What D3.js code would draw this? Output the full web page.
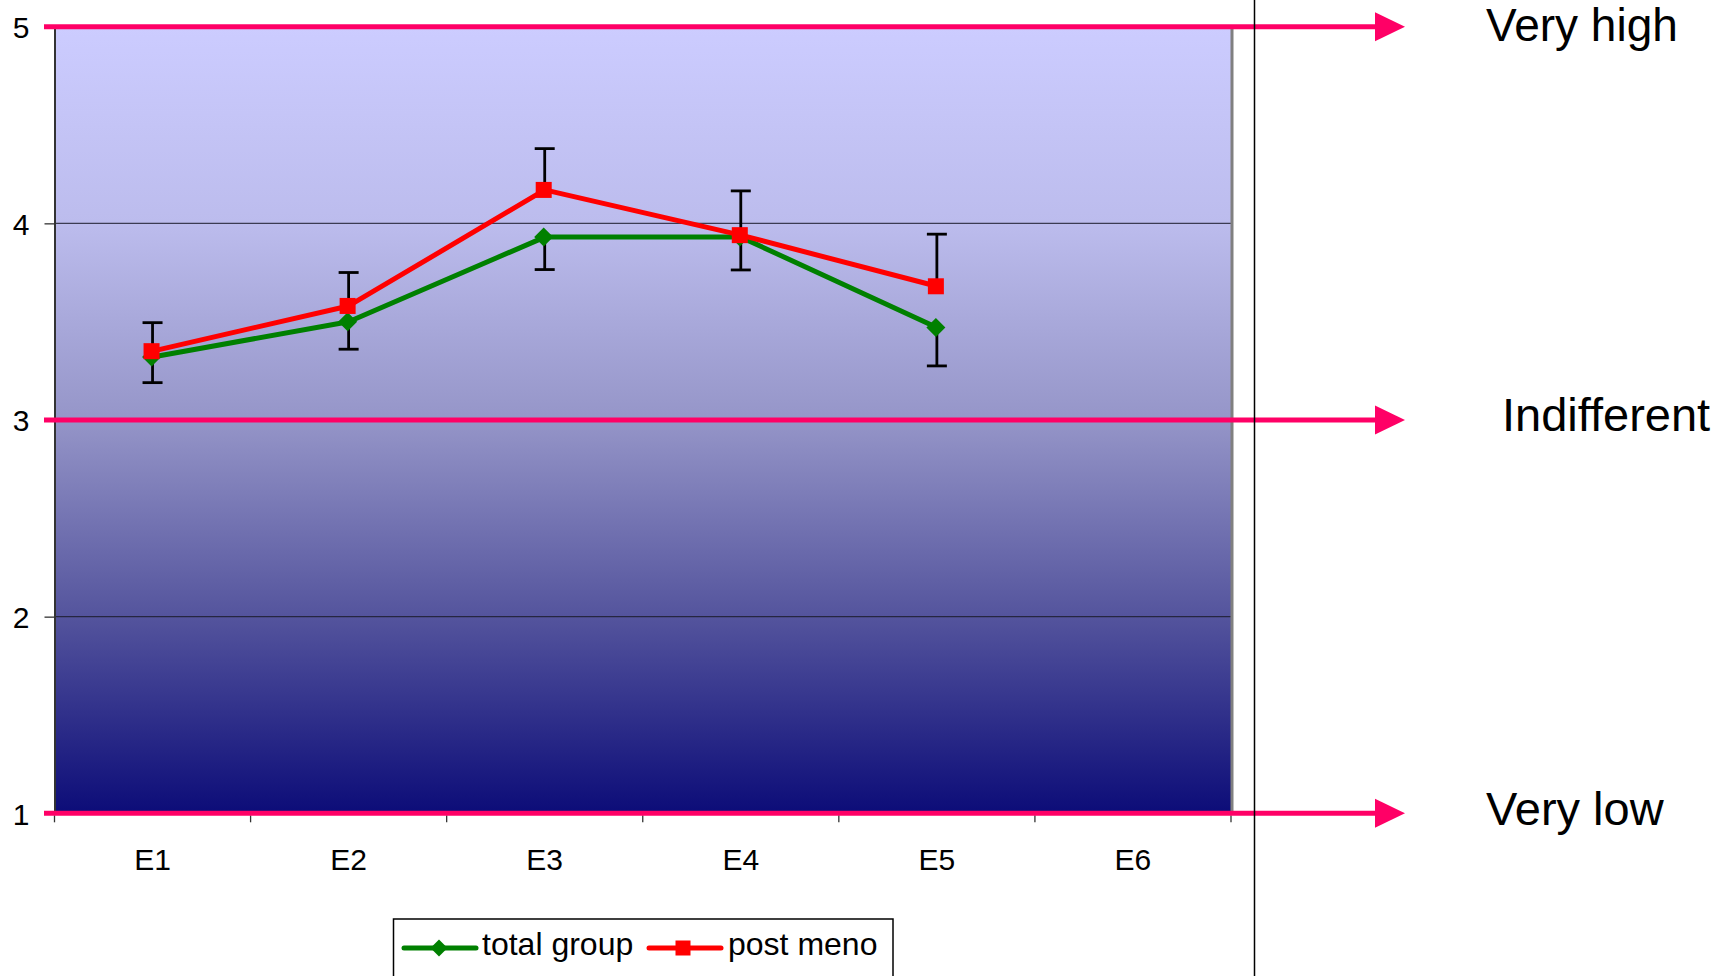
<!DOCTYPE html>
<html>
<head>
<meta charset="utf-8">
<script src="https://cdn.jsdelivr.net/npm/d3@7"></script>
<style>
  html, body { margin: 0; padding: 0; background: #fff; }
  svg { display: block; }
  text { font-family: "Liberation Sans", Arial, sans-serif; fill: #000; }
</style>
</head>
<body>
<svg id="chart" width="1736" height="976"></svg>
<script>
// ---- data ----
const categories = ["E1", "E2", "E3", "E4", "E5", "E6"];
const totalGroup = [3.32, 3.50, 3.93, 3.93, 3.47];
const totalGroupErrMinus = [0.13, 0.14, 0.165, 0.167, 0.195];
const postMeno = [3.35, 3.58, 4.17, 3.94, 3.68];
const postMenoErrPlus = [0.145, 0.17, 0.21, 0.225, 0.265];
const yTicks = [1, 2, 3, 4, 5];
const refLevels = [5, 3, 1];
const refLabels = ["Very high", "Indifferent", "Very low"];
const legendLabels = ["total group", "post meno"];

// ---- layout ----
const svg = d3.select("#chart");
const W = 1736, H = 976;
const plot = { left: 54.5, right: 1231, top: 26.7, bottom: 813.3 };

const x = d3.scaleBand().domain(categories).range([plot.left, plot.right]).padding(0);
const y = d3.scaleLinear().domain([1, 5]).range([plot.bottom, plot.top]);
const cx = c => x(c) + x.bandwidth() / 2;

// gradient
const defs = svg.append("defs");
const grad = defs.append("linearGradient").attr("id", "bg").attr("x1", 0).attr("y1", 0).attr("x2", 0).attr("y2", 1);
[[0, "#CCCCFF"], [0.25, "#BCBCED"], [0.5, "#9595C8"], [0.75, "#54549D"], [1, "#0C0C78"]]
  .forEach(([o, c]) => grad.append("stop").attr("offset", o).attr("stop-color", c));

svg.append("rect")
  .attr("x", plot.left).attr("y", plot.top)
  .attr("width", plot.right - plot.left).attr("height", plot.bottom - plot.top)
  .attr("fill", "url(#bg)");

// gridlines (non-reference levels)
svg.append("g").selectAll("line")
  .data(yTicks.filter(v => !refLevels.includes(v)))
  .join("line")
  .attr("x1", plot.left).attr("x2", plot.right)
  .attr("y1", d => y(d)).attr("y2", d => y(d))
  .attr("stroke", "#1a1a2a").attr("stroke-opacity", 0.8).attr("stroke-width", 1.4);

// right plot border
svg.append("line")
  .attr("x1", plot.right + 1).attr("x2", plot.right + 1)
  .attr("y1", plot.top).attr("y2", plot.bottom)
  .attr("stroke", "#808080").attr("stroke-width", 3);

// y axis
const yAxis = d3.axisLeft(y).tickValues(yTicks).tickFormat(d3.format("d")).tickSize(10).tickPadding(15);
const gy = svg.append("g").attr("transform", `translate(${plot.left},0)`).call(yAxis);
gy.select(".domain").attr("stroke", "#333").attr("stroke-width", 2);
gy.selectAll(".tick line").attr("stroke", "#333").attr("stroke-width", 1.3);
gy.selectAll(".tick text").attr("font-size", 30).attr("font-family", "Liberation Sans, Arial, sans-serif").attr("dy", "0.36em");

// x axis
const xAxis = d3.axisBottom(x).tickSize(0).tickPadding(0);
const gx = svg.append("g").attr("transform", `translate(0,${plot.bottom})`).call(xAxis);
gx.select(".domain").attr("stroke", "#808080").attr("stroke-width", 1.5);
gx.selectAll(".tick text").attr("font-size", 30).attr("font-family", "Liberation Sans, Arial, sans-serif")
  .attr("dy", null).attr("y", 57);
// boundary tick marks
svg.append("g").selectAll("line")
  .data(d3.range(categories.length + 1))
  .join("line")
  .attr("x1", i => plot.left + i * x.step()).attr("x2", i => plot.left + i * x.step())
  .attr("y1", plot.bottom + 2).attr("y2", plot.bottom + 9)
  .attr("stroke", "#333").attr("stroke-width", 1.3);

// reference pink lines with arrows
const pink = "#FF0066";
const arrowTip = 1405, arrowBase = 1375, arrowHalf = 14.5;
const refG = svg.append("g");
refLevels.forEach((lv, i) => {
  refG.append("line")
    .attr("x1", 44).attr("x2", arrowBase + 2)
    .attr("y1", y(lv)).attr("y2", y(lv))
    .attr("stroke", pink).attr("stroke-width", 5);
  refG.append("path")
    .attr("d", `M${arrowBase},${y(lv) - arrowHalf}L${arrowTip},${y(lv)}L${arrowBase},${y(lv) + arrowHalf}Z`)
    .attr("fill", pink);
});
// reference labels
const labelPos = [
  { x: 1486, base: 41 },
  { x: 1502, base: 431 },
  { x: 1486, base: 825 }
];
refG.selectAll("text.ref")
  .data(refLabels)
  .join("text")
  .attr("class", "ref")
  .attr("x", (d, i) => labelPos[i].x)
  .attr("y", (d, i) => labelPos[i].base)
  .attr("font-size", (d, i) => i === 0 ? 46 : 47)
  .text(d => d);

// vertical separator
svg.append("line")
  .attr("x1", 1254.5).attr("x2", 1254.5).attr("y1", 0).attr("y2", H)
  .attr("stroke", "#000").attr("stroke-width", 1.5);

// error bars
const capW = 10;
function errorBars(vals, errs, dir) {
  const g = svg.append("g");
  vals.forEach((v, i) => {
    const px = cx(categories[i]);
    const end = v + dir * errs[i];
    g.append("line").attr("x1", px).attr("x2", px).attr("y1", y(v)).attr("y2", y(end))
      .attr("stroke", "#000").attr("stroke-width", 2.8);
    g.append("line").attr("x1", px - capW).attr("x2", px + capW).attr("y1", y(end)).attr("y2", y(end))
      .attr("stroke", "#000").attr("stroke-width", 2.8);
  });
}
errorBars(totalGroup, totalGroupErrMinus, -1);
errorBars(postMeno, postMenoErrPlus, +1);

// series
const line = d3.line().x((d, i) => cx(categories[i])).y(d => y(d));
const green = "#008000", red = "#FF0000";

svg.append("path").datum(totalGroup).attr("d", line)
  .attr("fill", "none").attr("stroke", green).attr("stroke-width", 5).attr("stroke-linejoin", "round");
svg.append("g").selectAll("path")
  .data(totalGroup).join("path")
  .attr("transform", (d, i) => `translate(${cx(categories[i]) - 1},${y(d)})`)
  .attr("d", "M0,-9.5L9.5,0L0,9.5L-9.5,0Z").attr("fill", green);

svg.append("path").datum(postMeno).attr("d", line)
  .attr("fill", "none").attr("stroke", red).attr("stroke-width", 5).attr("stroke-linejoin", "round");
svg.append("g").selectAll("rect")
  .data(postMeno).join("rect")
  .attr("x", (d, i) => cx(categories[i]) - 1 - 8).attr("y", d => y(d) - 8)
  .attr("width", 16).attr("height", 16).attr("fill", red);

// legend
const lg = svg.append("g");
lg.append("rect").attr("x", 393.5).attr("y", 919).attr("width", 499.5).attr("height", 80)
  .attr("fill", "#fff").attr("stroke", "#000").attr("stroke-width", 1.5);
// total group
lg.append("line").attr("x1", 404).attr("x2", 476).attr("y1", 948).attr("y2", 948)
  .attr("stroke", green).attr("stroke-width", 5).attr("stroke-linecap", "round");
lg.append("path").attr("transform", "translate(439,948)").attr("d", "M0,-8.5L8.5,0L0,8.5L-8.5,0Z").attr("fill", green);
lg.append("text").attr("x", 482).attr("y", 955).attr("font-size", 32).text(legendLabels[0]);
// post meno
lg.append("line").attr("x1", 649).attr("x2", 721).attr("y1", 948).attr("y2", 948)
  .attr("stroke", red).attr("stroke-width", 5).attr("stroke-linecap", "round");
lg.append("rect").attr("x", 683 - 7.5).attr("y", 948 - 7.5).attr("width", 15).attr("height", 15).attr("fill", red);
lg.append("text").attr("x", 728).attr("y", 955).attr("font-size", 32).text(legendLabels[1]);
</script>
</body>
</html>
